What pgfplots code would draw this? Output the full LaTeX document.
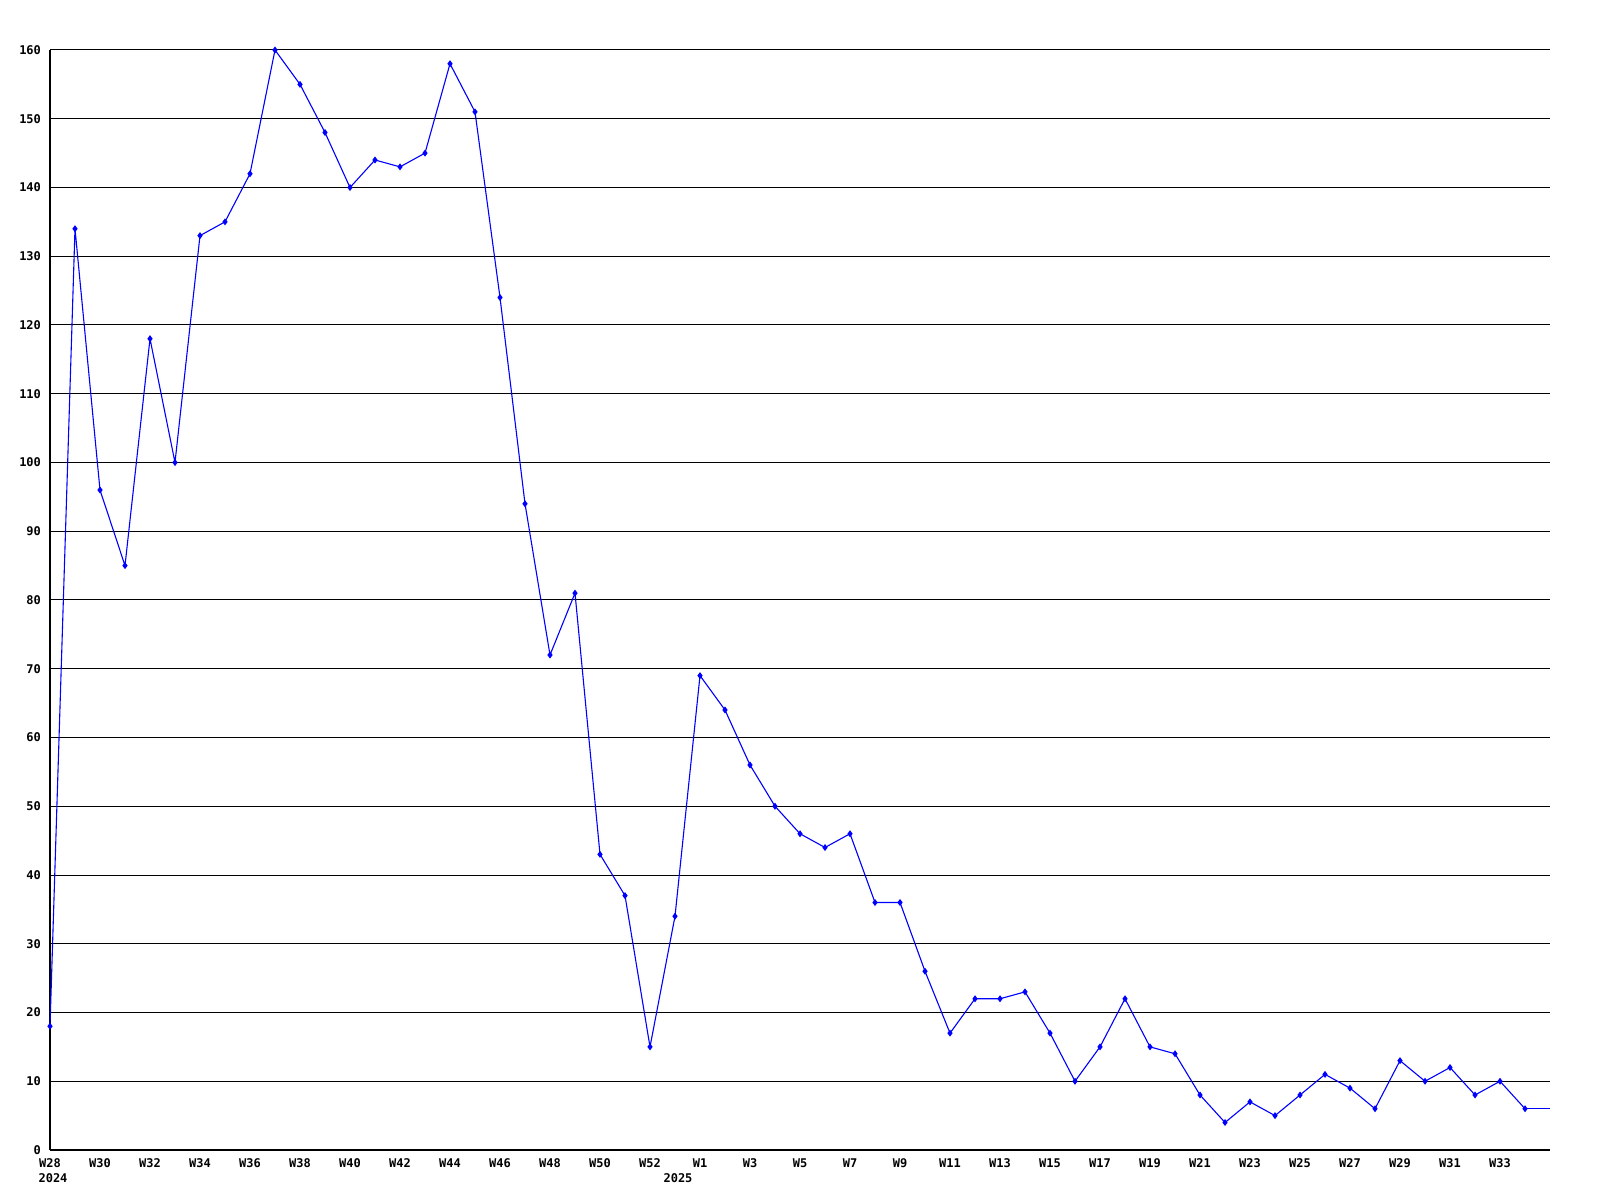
\documentclass[border=0pt]{standalone}
\usepackage{pgfplots}
\pgfplotsset{compat=1.18}
\usepackage{fontspec}
\setmainfont{DejaVu Sans Mono}
\setmonofont{DejaVu Sans Mono}
\begin{document}
\begin{tikzpicture}
\path[use as bounding box] (-25pt,-25pt) rectangle (775pt,575pt);
\begin{axis}[
  at={(0,0)}, anchor=south west,
  scale only axis, width=750pt, height=550pt,
  xmin=0, xmax=60, ymin=0, ymax=160,
  axis x line*=bottom, axis y line*=left,
  axis line style={-, line width=0.6pt, black},
  ytick={0,10,...,160},
  xtick={0,2,...,58},
  xticklabels={W28,W30,W32,W34,W36,W38,W40,W42,W44,W46,W48,W50,W52,W1,W3,W5,W7,W9,W11,W13,W15,W17,W19,W21,W23,W25,W27,W29,W31,W33},
  extra x ticks={0,25},
  extra x tick labels={2024,2025},
  extra x tick style={grid=none, major tick length=0pt, tick label style={yshift=-7.5pt, xshift=1.5pt}},
  major tick length=0pt,
  ymajorgrids, grid style={black, line width=0.5pt},
  tick label style={font=\fontsize{6}{6.5}\selectfont\bfseries},
  /pgf/number format/assume math mode=true,
  xticklabel style={yshift=-1pt},
  yticklabel style={xshift=-1pt},
  clip=false,
]
\addplot[blue, line width=0.55pt, mark=diamond*, mark size=1.3pt, mark options={blue}] coordinates {
(0,18)(1,134)(2,96)(3,85)(4,118)(5,100)(6,133)(7,135)(8,142)(9,160)
(10,155)(11,148)(12,140)(13,144)(14,143)(15,145)(16,158)(17,151)(18,124)(19,94)
(20,72)(21,81)(22,43)(23,37)(24,15)(25,34)(26,69)(27,64)(28,56)(29,50)
(30,46)(31,44)(32,46)(33,36)(34,36)(35,26)(36,17)(37,22)(38,22)(39,23)
(40,17)(41,10)(42,15)(43,22)(44,15)(45,14)(46,8)(47,4)(48,7)(49,5)
(50,8)(51,11)(52,9)(53,6)(54,13)(55,10)(56,12)(57,8)(58,10)(59,6)
};
\addplot[blue, line width=0.55pt, no marks] coordinates {(59,6)(60,6)};
\end{axis}
\end{tikzpicture}
\end{document}
